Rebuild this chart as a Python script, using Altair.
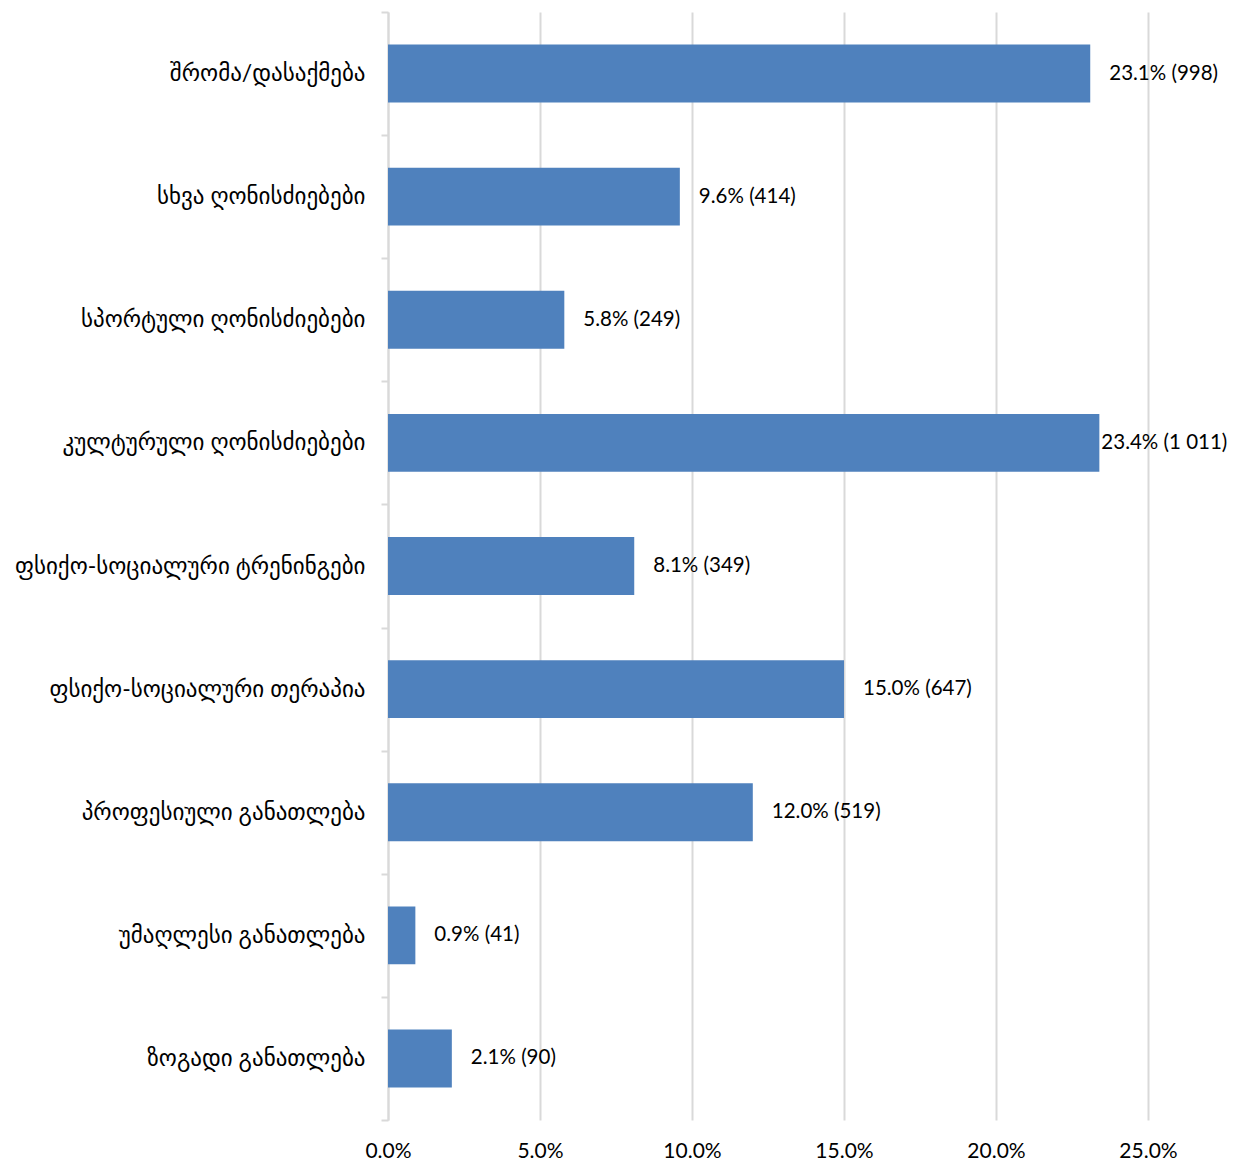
import altair as alt
import pandas as pd

categories = [
    "შრომა/დასაქმება",
    "სხვა ღონისძიებები",
    "სპორტული ღონისძიებები",
    "კულტურული ღონისძიებები\u2002",
    "ფსიქო-სოციალური ტრენინგები",
    "ფსიქო-სოციალური თერაპია",
    "პროფესიული განათლება",
    "უმაღლესი განათლება",
    "ზოგადი განათლება\u2002",
]
percents = [23.1, 9.6, 5.8, 23.4, 8.1, 15.0, 12.0, 0.9, 2.1]
counts = ["998", "414", "249", "1 011", "349", "647", "519", "41", "90"]

df = pd.DataFrame({"cat": categories, "pct": percents, "cnt": counts})
df["label"] = [f"{p:.1f}% ({c})" for p, c in zip(percents, counts)]

FONT = "Lato, DejaVu Sans, sans-serif"
BLUE = "#4F81BD"
GRID = "#D9D9D9"

y_enc = alt.Y(
    "cat:N",
    sort=categories,
    title=None,
    scale=alt.Scale(paddingInner=0, paddingOuter=0),
    axis=alt.Axis(
        tickBand="extent",
        tickSize=7,
        tickColor=GRID,
        tickWidth=2,
        domainColor=GRID,
        domainWidth=2,
        labelPadding=16,
        labelFontSize=23,
        labelFont=FONT,
        labelColor="#000000",
        labelLimit=600,
        grid=False,
    ),
)

x_enc = alt.X(
    "pct:Q",
    title=None,
    scale=alt.Scale(domain=[0, 25], nice=False),
    axis=alt.Axis(
        values=[0, 5, 10, 15, 20, 25],
        labelExpr="format(datum.value, '.1f') + '%'",
        labelFlush=False,
        domain=False,
        ticks=False,
        grid=True,
        gridColor=GRID,
        gridWidth=2,
        labelPadding=20,
        labelFontSize=21,
        labelFont=FONT,
        labelColor="#000000",
    ),
)

base = alt.Chart(df).encode(y=y_enc, x=x_enc)

bars = base.mark_bar(color=BLUE, opacity=1, height={"band": 0.47})

labels = base.transform_filter(alt.datum.pct < 23.3).mark_text(
    align="left", baseline="middle", dx=19, fontSize=20.5, font=FONT, color="#000000"
).encode(text="label:N")

labels_tight = base.transform_filter(alt.datum.pct >= 23.3).mark_text(
    align="left", baseline="middle", dx=2, fontSize=20.5, font=FONT, color="#000000"
).encode(text="label:N")

chart = (
    alt.layer(bars, labels, labels_tight)
    .properties(
        width=760,
        height=1108,
        autosize=alt.AutoSizeParams(type="none"),
        padding={"top": 4, "left": 380, "right": 81, "bottom": 40},
    )
    .configure_view(stroke=None)
)

chart.save("out.html", embed_options={"renderer": "svg", "actions": False})
